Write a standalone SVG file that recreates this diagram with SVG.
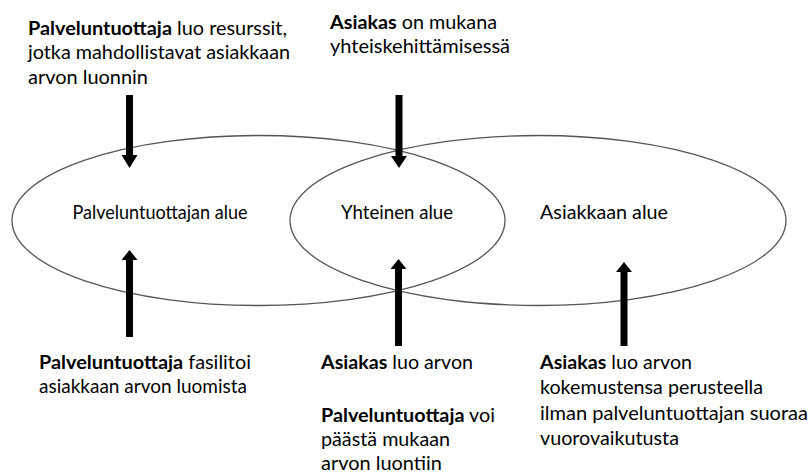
<svg xmlns="http://www.w3.org/2000/svg" width="809" height="473" viewBox="0 0 809 473">
<style>
.t{font-family:Lato,"Liberation Sans",sans-serif;font-size:19px;fill:#000}
.b{font-weight:bold}
.ell{fill:none;stroke:#555;stroke-width:1.3}
.arr{fill:#000}
</style>
<rect width="809" height="473" fill="#fff"/>
<g id="areas">
<g id="provider-area"><ellipse class="ell" cx="258.5" cy="220.5" rx="246.5" ry="85"/><text class="t" x="160" y="219" text-anchor="middle" textLength="175" lengthAdjust="spacingAndGlyphs">Palveluntuottajan alue</text></g>
<g id="joint-area"><text class="t" x="397" y="219" text-anchor="middle" textLength="112" lengthAdjust="spacingAndGlyphs">Yhteinen alue</text></g>
<g id="customer-area"><ellipse class="ell" cx="538" cy="220.5" rx="248" ry="85"/><text class="t" x="604" y="219" text-anchor="middle" textLength="128" lengthAdjust="spacingAndGlyphs">Asiakkaan alue</text></g>
</g>
<g id="connectors">
<polygon class="arr" points="126,95 133,95 133,155 137.5,155 129.5,168 121.5,155 126,155"/>
<polygon class="arr" points="395.5,95 402.5,95 402.5,156 407,156 399,168 391,156 395.5,156"/>
<polygon class="arr" points="126,337 133,337 133,260 137.5,260 129.5,250 121.5,260 126,260"/>
<polygon class="arr" points="395,346 402,346 402,269 406.5,269 398.5,259 390.5,269 395,269"/>
<polygon class="arr" points="620.5,346 627.5,346 627.5,272 632,272 624,262 616,272 620.5,272"/>
</g>
<g id="note-provider-resources">
<text class="t" x="28" y="34.5" textLength="259" lengthAdjust="spacingAndGlyphs"><tspan class="b">Palveluntuottaja</tspan> luo resurssit,</text>
<text class="t" x="28" y="59" textLength="262" lengthAdjust="spacingAndGlyphs">jotka mahdollistavat asiakkaan</text>
<text class="t" x="28" y="83.5" textLength="120" lengthAdjust="spacingAndGlyphs">arvon luonnin</text>
</g>
<g id="note-customer-codev">
<text class="t" x="330" y="28.5" textLength="167" lengthAdjust="spacingAndGlyphs"><tspan class="b">Asiakas</tspan> on mukana</text>
<text class="t" x="330" y="53" textLength="180" lengthAdjust="spacingAndGlyphs">yhteiskehittämisessä</text>
</g>
<g id="note-provider-facilitates">
<text class="t" x="39" y="368.5" textLength="212" lengthAdjust="spacingAndGlyphs"><tspan class="b">Palveluntuottaja</tspan> fasilitoi</text>
<text class="t" x="39" y="393" textLength="208" lengthAdjust="spacingAndGlyphs">asiakkaan arvon luomista</text>
</g>
<g id="note-joint">
<text class="t" x="321" y="369" textLength="152" lengthAdjust="spacingAndGlyphs"><tspan class="b">Asiakas</tspan> luo arvon</text>
<text class="t" x="321" y="421.5" textLength="174" lengthAdjust="spacingAndGlyphs"><tspan class="b">Palveluntuottaja</tspan> voi</text>
<text class="t" x="321" y="446" textLength="129" lengthAdjust="spacingAndGlyphs">päästä mukaan</text>
<text class="t" x="321" y="470" textLength="121" lengthAdjust="spacingAndGlyphs">arvon luontiin</text>
</g>
<g id="note-customer">
<text class="t" x="540" y="368.5" textLength="152" lengthAdjust="spacingAndGlyphs"><tspan class="b">Asiakas</tspan> luo arvon</text>
<text class="t" x="540" y="394" textLength="223" lengthAdjust="spacingAndGlyphs">kokemustensa perusteella</text>
<text class="t" x="540" y="419.5" textLength="268" lengthAdjust="spacingAndGlyphs">ilman palveluntuottajan suoraa</text>
<text class="t" x="540" y="444.5" textLength="139" lengthAdjust="spacingAndGlyphs">vuorovaikutusta</text>
</g>
</svg>
